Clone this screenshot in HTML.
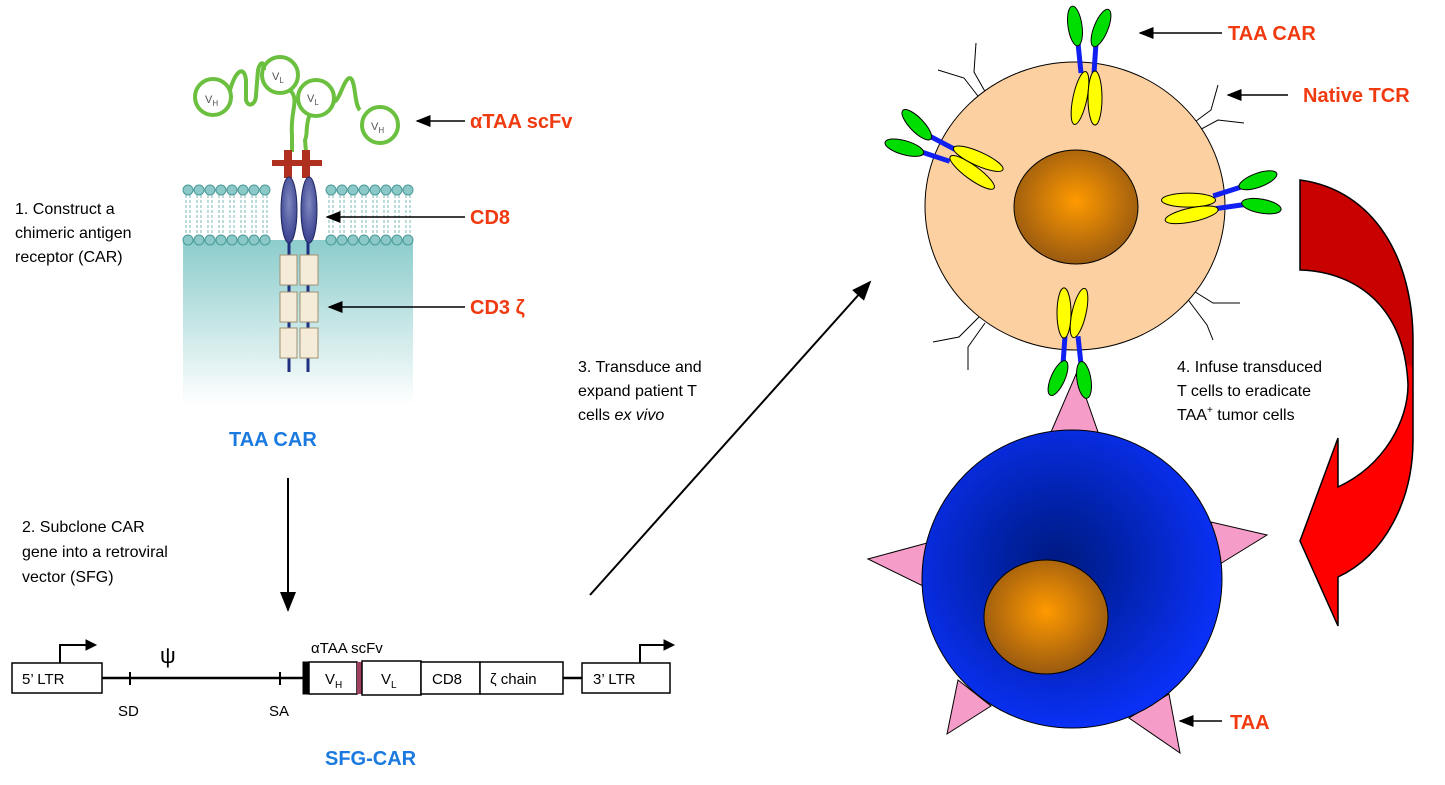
<!DOCTYPE html>
<html><head><meta charset="utf-8"><style>
body{margin:0;background:#fff}
svg{display:block}
text{font-family:"Liberation Sans",sans-serif}
</style></head><body>
<svg width="1445" height="785" viewBox="0 0 1445 785">
<defs>
<marker id="ah" markerWidth="10" markerHeight="8" refX="9" refY="4" orient="auto"><path d="M0,0L10,4L0,8Z" fill="#000"/></marker>
<linearGradient id="cyto" x1="0" y1="0" x2="0" y2="1"><stop offset="0" stop-color="#8ccccc"/><stop offset="1" stop-color="#ffffff"/></linearGradient>
<radialGradient id="nuc" cx="0.5" cy="0.45" r="0.55"><stop offset="0" stop-color="#ff9a00"/><stop offset="1" stop-color="#9a5a10"/></radialGradient>
<radialGradient id="tum" cx="0.45" cy="0.45" r="0.55"><stop offset="0" stop-color="#001a80"/><stop offset="0.3" stop-color="#0020a0"/><stop offset="1" stop-color="#0a30f5"/></radialGradient>
<linearGradient id="red" gradientUnits="userSpaceOnUse" x1="1413" y1="340" x2="1400" y2="390"><stop offset="0.45" stop-color="#c80000"/><stop offset="0.55" stop-color="#ff0000"/></linearGradient>
<radialGradient id="cd8" cx="0.5" cy="0.4" r="0.6"><stop offset="0" stop-color="#8088c0"/><stop offset="1" stop-color="#3a4290"/></radialGradient>
<g id="car">
<line x1="-6" y1="-25" x2="-9" y2="-55" stroke="#1020f0" stroke-width="5"/>
<line x1="7" y1="-25" x2="9" y2="-55" stroke="#1020f0" stroke-width="5"/>
<ellipse cx="-7" cy="0" rx="7" ry="27" transform="rotate(12 -7 0)" fill="#ffff00" stroke="#000"/>
<ellipse cx="8" cy="0" rx="7" ry="27" fill="#ffff00" stroke="#000"/>
<ellipse cx="-12" cy="-72" rx="7" ry="20" transform="rotate(-8 -12 -72)" fill="#00dd00" stroke="#000"/>
<ellipse cx="14" cy="-70" rx="7" ry="20" transform="rotate(22 14 -70)" fill="#00dd00" stroke="#000"/>
</g>
</defs>

<!-- Receptor panel -->
<g>
<rect x="183" y="240" width="230" height="165" fill="url(#cyto)"/>
<g fill="none" stroke="#6cc040" stroke-width="4">
<circle cx="213" cy="97" r="18"/>
<circle cx="280" cy="75" r="18"/>
<circle cx="316" cy="98" r="18"/>
<circle cx="380" cy="125" r="18"/>
<path d="M230,90 C236,70 244,65 246,80 L246,100 C248,108 256,105 256,95 L258,70 C260,62 264,60 264,70"/>
<path d="M290,90 C300,100 290,110 292,135 L292,152"/>
<path d="M334,102 C340,100 344,78 350,78 C356,80 354,105 360,110"/>
<path d="M310,114 C305,125 308,135 305,140 L306,152"/>
</g>
<g fill="#b03020"><path d="M284,150 h8 v10 h12 v6 h-12 v12 h-8 v-12 h-12 v-6 h12z"/><path d="M302,150 h8 v10 h12 v6 h-12 v12 h-8 v-12 h-12 v-6 h12z"/></g>
<line x1="289" y1="240" x2="289" y2="372" stroke="#203080" stroke-width="3"/>
<line x1="308" y1="240" x2="308" y2="372" stroke="#203080" stroke-width="3"/>
<ellipse cx="289" cy="210" rx="8" ry="33" fill="url(#cd8)" stroke="#202860"/>
<ellipse cx="309" cy="210" rx="8" ry="33" fill="url(#cd8)" stroke="#202860"/>
<g fill="#f4ecd8" stroke="#a09070">
<rect x="280" y="255" width="17" height="30"/><rect x="300" y="255" width="18" height="30"/>
<rect x="280" y="292" width="17" height="30"/><rect x="300" y="292" width="18" height="30"/>
<rect x="280" y="328" width="17" height="30"/><rect x="300" y="328" width="18" height="30"/>
</g>
<text x="205" y="103" font-size="11" fill="#555">V<tspan font-size="8" dy="3">H</tspan></text>
<text x="272" y="80" font-size="11" fill="#555">V<tspan font-size="8" dy="3">L</tspan></text>
<text x="307" y="102" font-size="11" fill="#555">V<tspan font-size="8" dy="3">L</tspan></text>
<text x="371" y="130" font-size="11" fill="#555">V<tspan font-size="8" dy="3">H</tspan></text>
</g>
<g id="bilayer"></g>

<text x="470" y="128" font-size="20" font-weight="bold" fill="#f03a10">αTAA scFv</text>
<line x1="465" y1="121" x2="417" y2="121" stroke="#000" stroke-width="1.5" marker-end="url(#ah)"/>
<text x="470" y="224" font-size="20" font-weight="bold" fill="#f03a10">CD8</text>
<line x1="465" y1="217" x2="327" y2="217" stroke="#000" stroke-width="1.5" marker-end="url(#ah)"/>
<text x="470" y="314" font-size="20" font-weight="bold" fill="#f03a10">CD3 ζ</text>
<line x1="465" y1="307" x2="329" y2="307" stroke="#000" stroke-width="1.5" marker-end="url(#ah)"/>

<g font-size="16" fill="#000">
<text x="15" y="214">1. Construct a</text><text x="15" y="238">chimeric antigen</text><text x="15" y="262">receptor (CAR)</text></g>
<text x="229" y="446" font-size="20" font-weight="bold" fill="#1a7ae0">TAA CAR</text>
<line x1="288" y1="478" x2="288" y2="610" stroke="#000" stroke-width="2" marker-end="url(#ah)"/>
<g font-size="16" fill="#000">
<text x="22" y="532">2. Subclone CAR</text><text x="22" y="557">gene into a retroviral</text><text x="22" y="582">vector (SFG)</text></g>

<!-- Vector -->
<g stroke="#000" font-size="15">
<line x1="102" y1="678" x2="305" y2="678" stroke-width="2.5"/>
<line x1="563" y1="678" x2="582" y2="678" stroke-width="2.5"/>
<line x1="130" y1="672" x2="130" y2="685" stroke-width="2"/>
<line x1="280" y1="672" x2="280" y2="685" stroke-width="2"/>
<rect x="12" y="663" width="90" height="30" fill="#fff" stroke-width="1.5"/>
<rect x="303" y="662" width="6" height="32" fill="#000"/>
<rect x="309" y="662" width="48" height="32" fill="#fff" stroke-width="1.5"/>
<rect x="357" y="662" width="5" height="32" fill="#a04060" stroke="none"/>
<rect x="362" y="661" width="59" height="34" fill="#fff" stroke-width="1.5"/>
<rect x="421" y="662" width="59" height="32" fill="#fff" stroke-width="1.5"/>
<rect x="480" y="662" width="83" height="32" fill="#fff" stroke-width="1.5"/>
<rect x="582" y="663" width="88" height="30" fill="#fff" stroke-width="1.5"/>
<path d="M60,663 V645 H88" fill="none" stroke-width="2"/><path d="M86,640 L96,645 L86,650Z" fill="#000"/>
<path d="M640,663 V645 H666" fill="none" stroke-width="2"/><path d="M664,640 L674,645 L664,650Z" fill="#000"/>
<g stroke="none" fill="#000">
<text x="22" y="684">5’ LTR</text><text x="593" y="684">3’ LTR</text>
<text x="325" y="684">V<tspan font-size="10" dy="4">H</tspan></text>
<text x="381" y="684">V<tspan font-size="10" dy="4">L</tspan></text>
<text x="432" y="684">CD8</text><text x="490" y="684">ζ chain</text>
<text x="311" y="653">αTAA scFv</text>
<text x="160" y="663" font-size="22" font-family="Liberation Serif">ψ</text>
<text x="118" y="716">SD</text><text x="269" y="716">SA</text>
</g></g>
<text x="325" y="765" font-size="20" font-weight="bold" fill="#1a7ae0">SFG-CAR</text>

<line x1="590" y1="595" x2="870" y2="282" stroke="#000" stroke-width="2" marker-end="url(#ah)"/>
<g font-size="16" fill="#000">
<text x="578" y="372">3. Transduce and</text><text x="578" y="396">expand patient T</text><text x="578" y="420">cells <tspan font-style="italic">ex vivo</tspan></text></g>

<!-- Red arrow -->
<path d="M1300,180 C1375,190 1413,260 1413,340 L1413,440 C1413,500 1385,555 1338,577 L1338,626 L1300,541 L1338,438 L1338,487 C1385,465 1408,420 1408,385 C1405,310 1360,272 1300,270 Z" fill="url(#red)" stroke="#000" stroke-width="1.5"/>

<!-- Tumor -->
<g stroke="#000" stroke-width="1">
<g fill="#f59cc8">
<path d="M1077,372 L1051,432 L1098,432Z"/>
<path d="M868,559 L927,543 L925,587Z"/>
<path d="M1267,535 L1211,522 L1220,564Z"/>
<path d="M947,734 L958,680 L991,706Z"/>
<path d="M1180,753 L1129,718 L1169,694Z"/>
</g>
<ellipse cx="1072" cy="579" rx="150" ry="149" fill="url(#tum)"/>
<ellipse cx="1046" cy="617" rx="62" ry="57" fill="url(#nuc)"/>
</g>

<!-- T cell -->
<g stroke="#000" fill="none">
<g stroke-width="1">
<polyline points="976,43 974,72 987,95"/><polyline points="938,70 964,78 981,100"/>
<polyline points="1218,85 1211,110 1188,127"/><polyline points="1244,123 1218,120 1194,133"/>
<polyline points="1240,303 1213,303 1192,290"/><polyline points="1213,340 1207,325 1186,297"/>
<polyline points="933,342 959,337 979,317"/><polyline points="968,370 968,347 985,323"/>
</g>
<ellipse cx="1075" cy="206" rx="150" ry="144" fill="#fcd0a0"/>
<ellipse cx="1076" cy="207" rx="62" ry="57" fill="url(#nuc)"/>
</g>
<g>
<use href="#car" transform="translate(1087,98)"/>
<use href="#car" transform="translate(975,166) rotate(-66)"/>
<use href="#car" transform="translate(1190,207) rotate(78)"/>
<use href="#car" transform="translate(1072,313) rotate(180) scale(1,0.93)"/>
</g>

<text x="1228" y="40" font-size="20" font-weight="bold" fill="#f03a10">TAA CAR</text>
<line x1="1222" y1="33" x2="1140" y2="33" stroke="#000" stroke-width="1.5" marker-end="url(#ah)"/>
<text x="1303" y="102" font-size="20" font-weight="bold" fill="#f03a10">Native TCR</text>
<line x1="1288" y1="95" x2="1228" y2="95" stroke="#000" stroke-width="1.5" marker-end="url(#ah)"/>
<text x="1230" y="729" font-size="20" font-weight="bold" fill="#f03a10">TAA</text>
<line x1="1222" y1="721" x2="1180" y2="721" stroke="#000" stroke-width="1.5" marker-end="url(#ah)"/>
<g font-size="16" fill="#000">
<text x="1177" y="372">4. Infuse transduced</text><text x="1177" y="396">T cells to eradicate</text><text x="1177" y="420">TAA<tspan font-size="10" dy="-7">+</tspan><tspan dy="7"> tumor cells</tspan></text></g>
</svg>
<script>
var g=document.getElementById('bilayer');var ns='http://www.w3.org/2000/svg';
var xs=[];for(var x=188;x<=408;x+=11){if(x>272&&x<327)continue;xs.push(x);}
xs.forEach(function(x){[190,240].forEach(function(y){var c=document.createElementNS(ns,'circle');c.setAttribute('cx',x);c.setAttribute('cy',y);c.setAttribute('r',5);c.setAttribute('fill','#8cc8c8');c.setAttribute('stroke','#4a9a9a');g.appendChild(c);});
var l=document.createElementNS(ns,'path');l.setAttribute('d','M'+(x-2)+',195 v40 M'+(x+2)+',195 v40');l.setAttribute('stroke','#7ab8b8');l.setAttribute('stroke-dasharray','3 2');g.appendChild(l);});
</script>
</body></html>
